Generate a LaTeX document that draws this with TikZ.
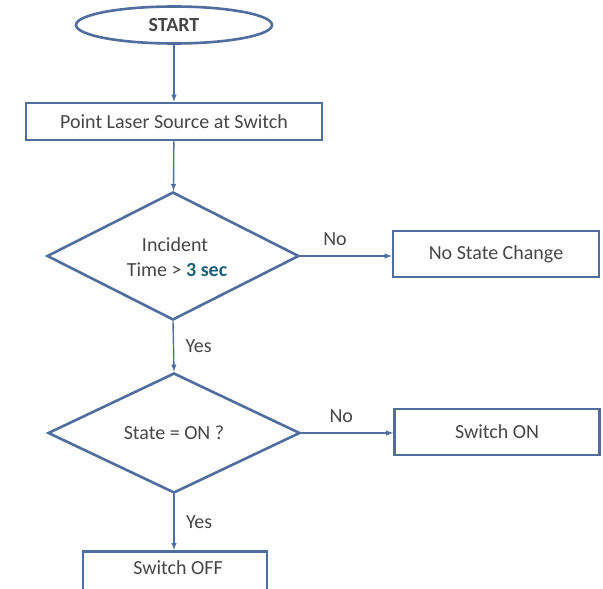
\documentclass[tikz,border=0pt]{standalone}
\usepackage{fontspec}
\setmainfont{Carlito}
\usetikzlibrary{shapes.geometric}
\usetikzlibrary{arrows}
\usepackage{xcolor}
\definecolor{lineblue}{RGB}{79,110,158}
\definecolor{txtgrey}{RGB}{70,70,70}
\definecolor{secblue}{RGB}{30,95,120}

\begin{document}
\begin{tikzpicture} [x=1pt,y=-1pt,
 every node/.style={text=txtgrey,font=\fontsize{20}{24}\selectfont},
 box/.style={draw=lineblue,line width=2.6pt,rectangle,inner sep=0pt},
 decide/.style={draw=lineblue,line width=2.6pt,diamond,inner sep=0pt},
 flow/.style={draw=lineblue,line width=1.4pt,->,>=latex}]
\useasboundingbox (0,0) rectangle (603,589);
% main column
\node[draw=lineblue,line width=2.6pt,ellipse,minimum width=196,minimum height=37,inner sep=0pt,font=\bfseries\fontsize{20}{24}\selectfont] (start) at (174,25) {START};
\node[box,minimum width=296,minimum height=37] (point) at (174,121.5) {Point Laser Source at Switch};
\node[decide,minimum width=252,minimum height=128] (incident) at (173,256) {};
\node (inctop) at (175,245) {Incident};
\node (incbot) at (177,270) {Time > \textcolor{secblue}{\bfseries 3 sec}};
\node[decide,minimum width=252,minimum height=120] (state) at (174,433) {State = ON ?};
\node[box,minimum width=184,minimum height=80,anchor=north] (off) at (175,550) {};
\node (offtext) at (178,568) {Switch OFF};
% side boxes
\node[box,minimum width=206,minimum height=46] (nochange) at (496,254) {No State Change};
\node[box,minimum width=205,minimum height=46] (on) at (497,432) {Switch ON};
% connectors
\draw[flow] (start) -- (point);
\draw[flow] (point) -- (incident);
\draw[flow] (incident.south) -- node[right,xshift=8pt]{Yes} (state.north);
\draw[flow] (state.south) -- node[right,xshift=8pt]{Yes} (off.north -| state.south);
\draw[flow] (incident.east) -- node[above,yshift=6pt,xshift=-11pt]{No} (nochange.west |- incident.east);
\draw[flow] (state.east) -- node[above,yshift=6pt,xshift=-6pt]{No} (on.west |- state.east);
\end{tikzpicture}
\end{document}
